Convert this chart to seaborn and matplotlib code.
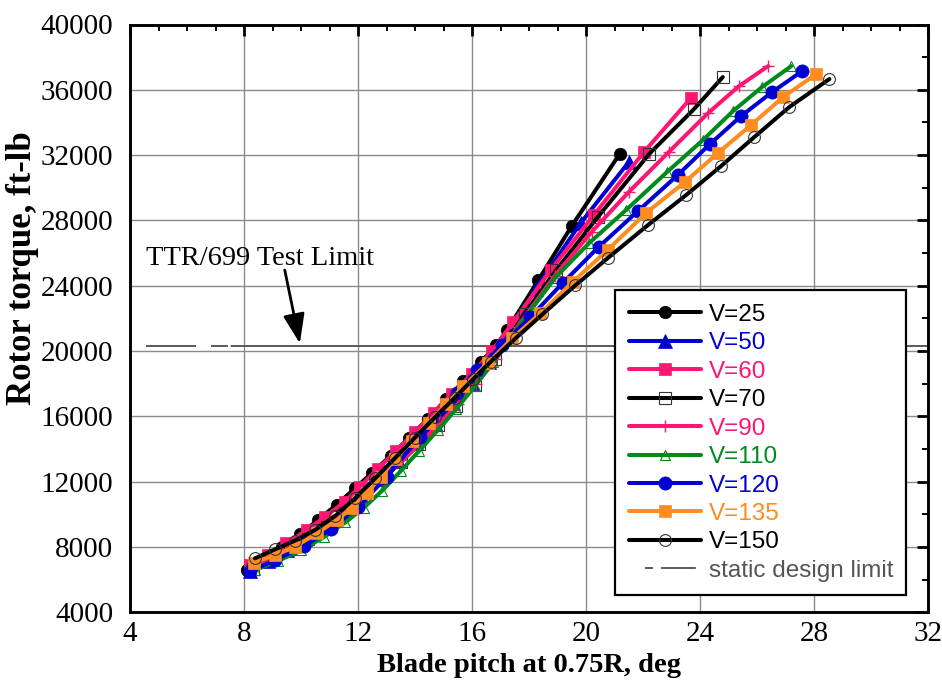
import matplotlib
matplotlib.use("Agg")
import matplotlib.pyplot as plt
import numpy as np
import pandas as pd
import seaborn as sns
from matplotlib.lines import Line2D
from matplotlib.ticker import MultipleLocator, FixedLocator

# ---------------- data ----------------
v25_x = [8.1, 8.7, 9.35, 9.96, 10.6, 11.25, 11.9, 12.5, 13.15, 13.8, 14.45, 15.1, 15.7, 16.3, 16.85, 17.24, 18.33, 19.5, 21.18]
v25_y = [6600, 7250, 8000, 8800, 9650, 10600, 11600, 12550, 13600, 14700, 15850, 17050, 18150, 19300, 20350, 21300, 24350, 27660, 32070]

v50_x = [8.2, 8.85, 9.5, 10.15, 10.8, 11.45, 12.1, 12.75, 13.4, 14.05, 14.7, 15.35, 16.0, 16.6, 17.3, 18.23, 19.81, 21.5]
v50_y = [6550, 7150, 7800, 8500, 9300, 10200, 11150, 12200, 13300, 14450, 15600, 16800, 18050, 19300, 21050, 23800, 27840, 31570]

v60_x = [8.2, 8.85, 9.49, 10.2, 10.84, 11.54, 12.07, 12.7, 13.35, 14.0, 14.65, 15.3, 16.0, 16.7, 17.45, 18.76, 20.27, 22.03, 23.68]
v60_y = [6880, 7500, 8220, 9030, 9850, 10770, 11700, 12800, 13900, 15050, 16200, 17400, 18600, 20000, 21790, 24960, 28320, 32180, 35500]

v70_x = [8.3, 8.95, 9.6, 10.25, 10.9, 11.55, 12.2, 12.85, 13.5, 14.15, 14.8, 15.45, 16.1, 16.8, 17.85, 18.95, 20.41, 22.21, 23.79, 24.8]
v70_y = [6650, 7250, 7850, 8500, 9250, 10100, 11050, 12100, 13200, 14300, 15450, 16650, 17900, 19500, 22300, 24950, 28200, 32060, 34820, 36780]

v90_x = [8.35, 9.0, 9.65, 10.3, 10.95, 11.6, 12.25, 12.9, 13.55, 14.2, 14.85, 15.5, 16.15, 16.85, 17.6, 18.9, 20.2, 21.5, 22.9, 24.28, 25.37, 26.39]
v90_y = [6700, 7250, 7850, 8500, 9300, 10200, 11150, 12200, 13300, 14400, 15550, 16750, 18000, 19500, 21500, 24600, 27300, 29740, 32180, 34570, 36230, 37450]

v110_x = [8.4, 9.2, 10.0, 10.8, 11.55, 12.2, 12.85, 13.5, 14.15, 14.8, 15.45, 16.1, 16.75, 17.4, 18.9, 20.1, 21.4, 22.84, 24.1, 25.16, 26.17, 27.2]
v110_y = [6600, 7150, 7800, 8600, 9500, 10400, 11450, 12650, 13900, 15150, 16450, 17850, 19350, 20950, 24450, 26600, 28630, 30960, 32920, 34700, 36160, 37450]

v120_x = [8.2, 9.1, 10.1, 11.05, 12.01, 13.01, 14.18, 15.47, 16.18, 17.06, 18.05, 19.18, 20.44, 21.82, 23.22, 24.35, 25.44, 26.53, 27.59]
v120_y = [6500, 7200, 8050, 9100, 10460, 12300, 14750, 17410, 18840, 20370, 22080, 24160, 26370, 28570, 30780, 32680, 34390, 35860, 37150]

v135_x = [8.34, 9.08, 9.78, 10.55, 11.25, 11.78, 12.3, 12.8, 13.3, 13.9, 14.48, 15.1, 15.7, 16.55, 17.41, 18.4, 19.53, 20.76, 22.1, 23.47, 24.63, 25.79, 26.92, 28.08]
v135_y = [7030, 7500, 8010, 8830, 9650, 10370, 11280, 12300, 13400, 14500, 15620, 16750, 17850, 19250, 20780, 22310, 24230, 26190, 28450, 30350, 32130, 33840, 35560, 36970]

v150_x = [8.38, 9.08, 9.78, 10.5, 11.2, 11.9, 12.6, 13.3, 14.0, 14.7, 15.4, 16.05, 16.65, 17.53, 18.47, 19.63, 20.76, 22.17, 23.51, 24.74, 25.9, 27.13, 28.54]
v150_y = [7300, 7850, 8380, 9050, 9900, 11000, 12200, 13450, 14700, 15950, 17150, 18300, 19340, 20780, 22250, 24030, 25690, 27710, 29550, 31330, 33100, 34940, 36660]

static_limit = 20300
series_labels = ["V=25", "V=50", "V=60", "V=70", "V=90", "V=110", "V=120", "V=135", "V=150"]
x_ticks = [4, 8, 12, 16, 20, 24, 28, 32]
y_ticks = [4000, 8000, 12000, 16000, 20000, 24000, 28000, 32000, 36000, 40000]
annot_text = "TTR/699 Test Limit"
static_label = "static design limit"

# ---------------- style ----------------
sns.set_theme(style="white")
plt.rcParams["lines.scale_dashes"] = False
plt.rcParams["font.family"] = ["Liberation Serif", "DejaVu Serif"]
for k in ["text.color", "axes.labelcolor", "xtick.color", "ytick.color"]:
    plt.rcParams[k] = "black"

BLACK = "#000000"
BLUE = "#0000d2"
PINK = "#ff1672"
GREEN = "#008a1c"
ORANGE = "#ff8c1e"

styles = [
    dict(color=BLACK, marker="o", markersize=9, markerfacecolor=BLACK, markeredgecolor=BLACK, markeredgewidth=0.5),
    dict(color=BLUE, marker="^", markersize=9.5, markerfacecolor=BLUE, markeredgecolor=BLUE, markeredgewidth=0.5),
    dict(color=PINK, marker="s", markersize=8, markerfacecolor=PINK, markeredgecolor=PINK, markeredgewidth=0.5),
    dict(color=BLACK, marker="s", markersize=8, markerfacecolor="none", markeredgecolor="#333333", markeredgewidth=0.8),
    dict(color=PINK, marker="+", markersize=8, markerfacecolor=PINK, markeredgecolor=PINK, markeredgewidth=1.0),
    dict(color=GREEN, marker="^", markersize=6.5, markerfacecolor="none", markeredgecolor=GREEN, markeredgewidth=0.8),
    dict(color=BLUE, marker="o", markersize=9.5, markerfacecolor=BLUE, markeredgecolor=BLUE, markeredgewidth=0.5),
    dict(color=ORANGE, marker="s", markersize=8.5, markerfacecolor=ORANGE, markeredgecolor=ORANGE, markeredgewidth=0.5),
    dict(color=BLACK, marker="o", markersize=8.5, markerfacecolor="none", markeredgecolor="#333333", markeredgewidth=0.8),
]
xs_all = [v25_x, v50_x, v60_x, v70_x, v90_x, v110_x, v120_x, v135_x, v150_x]
ys_all = [v25_y, v50_y, v60_y, v70_y, v90_y, v110_y, v120_y, v135_y, v150_y]

LW = 2.9

fig = plt.figure(figsize=(9.42, 6.89), dpi=100)
fig.patch.set_facecolor("white")
ax = fig.add_axes([130 / 942, 1 - 612.3 / 689, 798 / 942, 587.8 / 689])
ax.set_facecolor("white")

# static design limit line
ax.plot([4, 32], [static_limit, static_limit], color="#5a5a5a", lw=1.4,
        linestyle=(0, (0, 11.5, 36, 10.8, 12.2, 2, 3000, 1)), zorder=2)

for lab, xs, ys, st in zip(series_labels, xs_all, ys_all, styles):
    df = pd.DataFrame({"pitch": xs, "torque": ys})
    sns.lineplot(data=df, x="pitch", y="torque", ax=ax, sort=False, estimator=None,
                 lw=LW, legend=False, zorder=3, **st)

ax.set_xlim(4, 32)
ax.set_ylim(4000, 40000)
ax.xaxis.set_major_locator(FixedLocator(x_ticks))
ax.yaxis.set_major_locator(FixedLocator(y_ticks))
ax.xaxis.set_minor_locator(MultipleLocator(1))
ax.yaxis.set_minor_locator(MultipleLocator(2000))
ax.set_xticklabels([str(t) for t in x_ticks])
ax.set_yticklabels([str(t) for t in y_ticks])

ax.grid(True, which="major", color="#8a8a8a", lw=1.0, zorder=1)
ax.set_axisbelow(True)

ax.tick_params(which="both", direction="in", top=True, right=True, colors="black")
ax.tick_params(which="major", length=8, width=2.0)
ax.tick_params(which="minor", length=4.5, width=1.4)
ax.tick_params(axis="x", which="major", labelsize=21, pad=6)
ax.tick_params(axis="y", which="major", labelsize=21, pad=12)
for sp in ax.spines.values():
    sp.set_linewidth(2.1)
    sp.set_color("black")

ax.set_xlabel("Blade pitch at 0.75R, deg", fontsize=20.5, fontweight="bold")
ax.set_ylabel("Rotor torque, ft-lb", fontsize=25, fontweight="bold")
ax.xaxis.set_label_coords(0.5, -0.0897)
ax.xaxis.label.set_va("center")
ax.yaxis.set_label_coords(-0.135, 0.585)
ax.yaxis.label.set_va("center")

# annotation
ax.text(4.55, 25270, annot_text, fontsize=20.5, ha="left", va="baseline", zorder=5)
ax.annotate("", xy=(9.96, 20470), xytext=(9.43, 24960),
            arrowprops=dict(arrowstyle="-|>,head_length=0.9,head_width=0.33",
                            mutation_scale=20, lw=2.0, color="black",
                            shrinkA=0, shrinkB=0), zorder=5)

# legend
handles = []
for st in styles:
    handles.append(Line2D([], [], lw=LW, **st))
handles.append(Line2D([], [], color="#5a5a5a", lw=1.4,
                      linestyle=(0, (0, 11.5, 5.8, 5.8, 25, 20))))
labels = series_labels + [static_label]
leg = ax.legend(handles, labels, loc="lower right", bbox_to_anchor=(0.973, 0.029),
                frameon=True, fancybox=False, edgecolor="black", framealpha=1,
                facecolor="white", handlelength=2.95, handletextpad=0.33,
                labelspacing=0.265, borderpad=0.55, borderaxespad=0,
                prop={"family": ["Liberation Sans", "DejaVu Sans"], "size": 17.5})
leg.get_frame().set_linewidth(1.6)
leg.set_zorder(6)
text_colors = [BLACK, BLUE, PINK, BLACK, PINK, GREEN, BLUE, ORANGE, BLACK, "#555555"]
for t, c in zip(leg.get_texts(), text_colors):
    t.set_color(c)

fig.savefig("out.png", dpi=100, facecolor="white")
